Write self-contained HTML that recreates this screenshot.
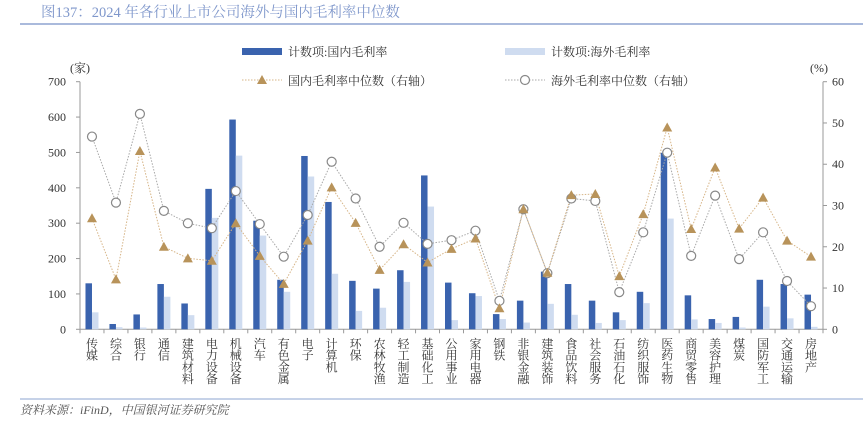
<!DOCTYPE html>
<html><head><meta charset="utf-8"><style>
body{margin:0;background:#fff;width:863px;height:421px;overflow:hidden}
svg{display:block;font-family:"Liberation Serif","Noto Serif CJK SC","Noto Sans CJK SC",serif}
</style></head><body>
<svg id="c" width="863" height="421" viewBox="0 0 863 421" xmlns="http://www.w3.org/2000/svg">
<text x="41" y="17" font-size="14.5" fill="#7f97cb">图137：2024 年各行业上市公司海外与国内毛利率中位数</text>
<line x1="20" y1="24" x2="863" y2="24" stroke="#8da4d0" stroke-width="1.5"/>
<g id="plot"></g>
<line x1="20" y1="399" x2="863" y2="399" stroke="#8da4d0" stroke-width="1"/>
<text x="20" y="414" font-size="12" font-style="italic" fill="#555">资料来源：iFinD，中国银河证券研究院</text>
</svg>
<script>
const categories=["传媒","综合","银行","通信","建筑材料","电力设备","机械设备","汽车","有色金属","电子","计算机","环保","农林牧渔","轻工制造","基础化工","公用事业","家用电器","钢铁","非银金融","建筑装饰","食品饮料","社会服务","石油石化","纺织服饰","医药生物","商贸零售","美容护理","煤炭","国防军工","交通运输","房地产"];
const domesticCount=[130,15,42,128,73,397,593,307,140,490,360,137,115,167,435,132,102,43,81,163,128,81,48,106,499,96,29,35,140,128,98];
const overseasCount=[48,6,5,92,40,315,491,265,106,432,157,52,61,134,347,26,94,29,19,72,41,18,26,74,313,28,18,5,64,31,7];
const domesticMedian=[26.9,12.1,43.2,20.0,17.2,16.6,25.7,17.8,11.0,21.5,34.4,25.8,14.4,20.6,16.2,19.5,22.0,5.1,29.1,13.7,32.5,32.8,12.9,27.9,48.9,24.3,39.2,24.4,31.9,21.5,17.6];
const overseasMedian=[46.7,30.7,52.2,28.7,25.7,24.5,33.5,25.5,17.6,27.7,40.6,31.7,20.0,25.8,20.7,21.6,23.9,6.9,29.1,13.6,31.7,31.1,9.0,23.5,42.8,17.8,32.4,17.0,23.5,11.7,5.6];
const leftTicks=[0,100,200,300,400,500,600,700];
const rightTicks=[0,10,20,30,40,50,60];

const NS="http://www.w3.org/2000/svg";
const g=document.getElementById('plot');
const X0=80,X1=823,Y0=329.3,Y1=81.7;
const n=categories.length,step=(X1-X0)/n;
const yL=v=>Y0-(v/700)*(Y0-Y1);
const yR=v=>Y0-(v/60)*(Y0-Y1);
const xc=i=>X0+step*(i+0.5);
function mk(t,a,p){const e=document.createElementNS(NS,t);for(const k in a)e.setAttribute(k,a[k]);(p||g).appendChild(e);return e;}
function tx(x,y,s,a){const e=mk('text',Object.assign({x:x,y:y,'font-size':12,fill:'#333'},a||{}));e.textContent=s;return e;}

// axes
let e=mk('line',{x1:X0,y1:Y1,x2:X0,y2:Y0,stroke:'#999'});


e=mk('line',{x1:X1,y1:Y1,x2:X1,y2:Y0,stroke:'#999'});


e=mk('line',{x1:X0,y1:Y0,x2:X1,y2:Y0,stroke:'#999'});


leftTicks.forEach(v=>{
  mk('line',{x1:X0-4,y1:yL(v),x2:X0,y2:yL(v),stroke:'#999'});
  e=tx(66,yL(v)+4,String(v),{'text-anchor':'end'});
  
  
});
rightTicks.forEach(v=>{
  mk('line',{x1:X1,y1:yR(v),x2:X1+4,y2:yR(v),stroke:'#999'});
  e=tx(832,yR(v)+4,String(v));
  
  
});
for(let i=0;i<=n;i++)mk('line',{x1:X0+step*i,y1:Y0,x2:X0+step*i,y2:Y0+4,stroke:'#999'});
e=tx(70,72,'(家)');


e=tx(810,72,'(%)');



// bars
categories.forEach((c,i)=>{
  const x=xc(i);
  e=mk('rect',{x:x-6.5,y:yL(domesticCount[i]),width:6.5,height:Y0-yL(domesticCount[i]),fill:'#3a63ae'});
  
  
  e=mk('rect',{x:x,y:yL(overseasCount[i]),width:6.5,height:Y0-yL(overseasCount[i]),fill:'#cfdcf0'});
  
  
  const lab=mk('text',{x:x,y:348,'font-size':12,fill:'#333','text-anchor':'middle'});
  
  
  [...c].forEach((ch,k)=>{const t=mk('tspan',{x:x,y:348+k*11.7},lab);t.textContent=ch;});
});
// lines
function line(arr,col,name){
  const p=mk('polyline',{points:arr.map((v,i)=>xc(i)+','+yR(v)).join(' '),fill:'none',stroke:col,'stroke-width':1,'stroke-dasharray':'1.5,1.5'});
  
  
}
line(overseasMedian,'#a8a8a8','overseas-median-line');
line(domesticMedian,'#d6b486','domestic-median-line');
function tri(x,y){return mk('path',{d:`M${x},${y-5} L${x+5},${y+4} L${x-5},${y+4} Z`,fill:'#b8935a'});}
function circ(x,y){return mk('circle',{cx:x,cy:y,r:4.5,fill:'#fff',stroke:'#888','stroke-width':1.2});}
overseasMedian.forEach((v,i)=>{
  e=circ(xc(i),yR(v));
  
  
});
domesticMedian.forEach((v,i)=>{
  e=tri(xc(i),yR(v));
  
  
});
// legend
e=mk('rect',{x:242,y:48,width:40,height:7,fill:'#3a63ae'});


e=tx(288,56,'计数项:国内毛利率');


e=mk('rect',{x:505,y:48,width:40,height:7,fill:'#cfdcf0'});


e=tx(551,56,'计数项:海外毛利率');


mk('line',{x1:242,y1:80,x2:282,y2:80,stroke:'#d6b486','stroke-dasharray':'1.5,1.5'});
e=tri(262,80);


e=tx(288,85,'国内毛利率中位数（右轴）');


mk('line',{x1:505,y1:80,x2:545,y2:80,stroke:'#a8a8a8','stroke-dasharray':'1.5,1.5'});
e=circ(525,80);


e=tx(551,85,'海外毛利率中位数（右轴）');


</script>
</body></html>
